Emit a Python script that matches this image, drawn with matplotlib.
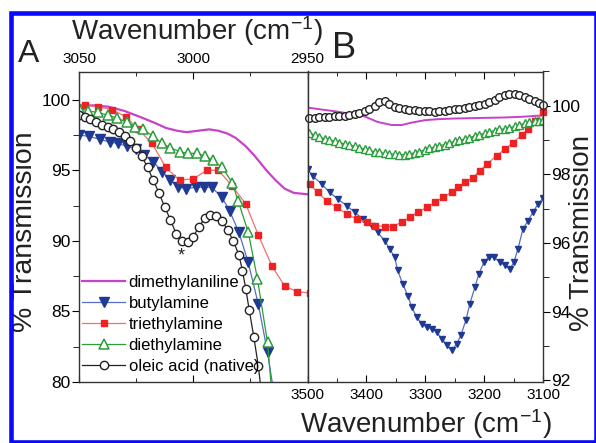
import numpy as np
import matplotlib
matplotlib.use("Agg")
import matplotlib.pyplot as plt
from matplotlib.patches import Rectangle
from matplotlib.ticker import MultipleLocator

plt.rcParams['font.family'] = ['Liberation Sans', 'DejaVu Sans']
plt.rcParams['mathtext.default'] = 'regular'

# ---- panel A : 3050-2950 cm-1 ----
dma_a_wn = [3050, 3043, 3037, 3030, 3022, 3016, 3012, 3007, 3003, 2998, 2993, 2989,
            2985, 2981.5, 2977, 2973, 2968, 2964, 2960, 2956, 2950]
dma_a_t = [99.6, 99.6, 99.5, 99.2, 98.7, 98.3, 98.0, 97.8, 97.7, 97.8, 97.9, 97.8,
           97.6, 97.3, 96.7, 96.0, 95.0, 94.3, 93.7, 93.4, 93.3]

but_a_wn = [3050, 3045.5, 3041, 3036.5, 3033, 3029, 3025, 3021.5, 3017.5, 3013.5, 3010,
            3006.5, 3003, 2999, 2995.5, 2992, 2987.5, 2984, 2980, 2976, 2971.5, 2967.5, 2964.5]
but_a_t = [97.5, 97.4, 97.2, 97.0, 96.9, 96.7, 96.5, 96.1, 95.6, 94.9, 94.3,
           93.8, 93.7, 93.8, 93.8, 93.8, 93.1, 92.1, 90.6, 88.5, 85.5, 82.1, 79.0]

tea_a_wn = [3047.4, 3041.5, 3035.5, 3029.6, 3024, 3018, 3012, 3006, 3000, 2994, 2989,
            2983, 2977, 2971.5, 2965.5, 2960, 2954.5, 2948.7]
tea_a_t = [99.6, 99.5, 99.3, 98.8, 97.9, 96.9, 95.2, 94.3, 94.4, 95.0, 95.0,
           93.9, 92.6, 90.4, 88.2, 86.8, 86.4, 86.3]

dea_a_wn = [3050, 3046, 3041.7, 3037.3, 3033.3, 3029, 3025.4, 3022, 3017.5, 3013.6, 3010,
            3005.7, 3002.2, 2998.2, 2994.7, 2991.2, 2987.3, 2982.9, 2980.3, 2975.9,
            2971.9, 2967.5, 2965.5]
dea_a_t = [99.4, 99.2, 99.1, 98.9, 98.7, 98.4, 98.1, 97.9, 97.4, 96.9, 96.6,
           96.3, 96.2, 96.2, 96.0, 95.7, 95.2, 94.1, 92.8, 90.6,
           87.3, 82.8, 79.0]

ole_a_wn = [3050, 3047.5, 3045, 3042.5, 3040, 3037.5, 3035, 3032.5, 3030, 3027.5, 3025,
            3022.5, 3020, 3017.5, 3015, 3012.5, 3010, 3007.5, 3005, 3002.5, 3000,
            2997.5, 2995, 2992.5, 2990, 2987.5, 2985, 2982.5, 2980, 2978.5, 2977,
            2975.5, 2973.5, 2971.5, 2970.0]
ole_a_t = [98.9, 98.75, 98.6, 98.4, 98.2, 98.05, 97.9, 97.7, 97.45, 97.1, 96.6,
           96.0, 95.2, 94.3, 93.4, 92.4, 91.5, 90.5, 90.0, 89.9, 90.3,
           91.0, 91.6, 91.8, 91.75, 91.4, 90.8, 90.0, 89.0, 87.9, 86.6,
           85.1, 83.2, 81.1, 79.0]

# ---- panel B : 3500-3100 cm-1 ----
dma_b_wn = [3500, 3488, 3471, 3449, 3425, 3403, 3381, 3357, 3340, 3323, 3301, 3279,
            3250, 3221, 3194, 3165, 3136, 3109, 3100]
dma_b_t = [99.95, 99.92, 99.88, 99.83, 99.76, 99.69, 99.53, 99.44, 99.44, 99.51, 99.58, 99.61,
           99.63, 99.64, 99.65, 99.66, 99.68, 99.71, 99.72]

but_b_wn = [3500, 3491.5, 3476, 3462.6, 3449, 3433.6, 3420, 3406.4, 3391, 3381, 3369,
            3360.4, 3352, 3346.8, 3338.3, 3329.8, 3323, 3314.5, 3306, 3297.4, 3289,
            3280.4, 3272, 3263.4, 3255, 3246.4, 3239.6, 3231, 3224.3, 3215.7, 3209,
            3200.4, 3192, 3183.4, 3173.2, 3164.7, 3156.2, 3149.4, 3142.6, 3134,
            3125.5, 3117, 3108.5, 3100]
but_b_t = [98.16, 97.96, 97.72, 97.48, 97.29, 97.09, 96.9, 96.7, 96.51, 96.31, 96.07,
           95.83, 95.59, 95.2, 94.81, 94.47, 94.13, 93.84, 93.65, 93.55, 93.5,
           93.4, 93.21, 93.02, 92.87, 93.07, 93.31, 93.75, 94.23, 94.71, 95.1,
           95.44, 95.59, 95.59, 95.44, 95.35, 95.25, 95.44, 95.83, 96.41,
           96.65, 96.9, 97.14, 97.3]

tea_b_wn = [3496.6, 3483, 3467.7, 3450.6, 3433.6, 3416.6, 3399.6, 3386, 3369, 3355.3,
            3340, 3326.4, 3312.8, 3297.4, 3283.8, 3270.2, 3254.9, 3244.7, 3232.8, 3219,
            3207.2, 3195.3, 3178.3, 3164.7, 3151, 3135.7, 3125.5, 3113.6, 3100]
tea_b_t = [97.72, 97.48, 97.24, 97.04, 96.85, 96.7, 96.61, 96.51, 96.48, 96.48,
           96.61, 96.75, 96.9, 97.04, 97.19, 97.33, 97.48, 97.62, 97.77, 97.91,
           98.11, 98.3, 98.55, 98.74, 98.93, 99.15, 99.32, 99.56, 99.81]

dea_b_wn = [3497, 3488, 3480, 3471, 3463, 3454, 3446, 3437, 3429, 3420, 3412, 3403,
            3395, 3386, 3378, 3369, 3361, 3352, 3344, 3335, 3327, 3318, 3310, 3301,
            3293, 3284, 3276, 3267, 3259, 3250, 3242, 3233, 3225, 3216, 3208, 3199,
            3191, 3182, 3174, 3165, 3157, 3148, 3140, 3131, 3123, 3114, 3106, 3100]
dea_b_t = [99.22, 99.15, 99.08, 99.04, 99.01, 98.97, 98.93, 98.89, 98.86, 98.82, 98.78, 98.74,
           98.70, 98.66, 98.64, 98.61, 98.60, 98.59, 98.58, 98.58, 98.60, 98.63, 98.66, 98.72,
           98.76, 98.80, 98.84, 98.87, 98.92, 98.97, 99.00, 99.03, 99.07, 99.12, 99.16, 99.20,
           99.24, 99.28, 99.31, 99.33, 99.36, 99.40, 99.45, 99.49, 99.53, 99.56, 99.57, 99.58]

ole_b_wn = [3497, 3488, 3480, 3471, 3463, 3454, 3446, 3437, 3429, 3420, 3412, 3403,
            3395, 3386, 3378, 3369, 3361, 3352, 3344, 3335, 3327, 3318, 3310, 3301,
            3293, 3284, 3276, 3267, 3259, 3250, 3242, 3233, 3225, 3216, 3208, 3199,
            3191, 3182, 3174, 3165, 3157, 3148, 3140, 3131, 3123, 3114, 3106, 3100]
ole_b_t = [99.64, 99.65, 99.66, 99.67, 99.68, 99.69, 99.69, 99.70, 99.72, 99.76, 99.80, 99.84,
           99.90, 100.00, 100.10, 100.15, 100.05, 99.97, 99.94, 99.91, 99.89, 99.87, 99.86, 99.85,
           99.84, 99.83, 99.84, 99.85, 99.88, 99.90, 99.92, 99.94, 99.96, 99.98, 100.01, 100.05,
           100.10, 100.16, 100.25, 100.31, 100.33, 100.34, 100.31, 100.26, 100.20, 100.14, 100.07, 100.02]

labels = ['dimethylaniline', 'butylamine', 'triethylamine', 'diethylamine', 'oleic acid (native)']

magenta = '#c842c8'
navy = '#1f3a93'
navy_line = '#5a6cc0'
red = '#ee2222'
red_line = '#f07070'
green = '#2a9d3c'
black = '#222222'

fig = plt.figure(figsize=(5.96, 4.43), dpi=100)
axA = fig.add_axes([79 / 596, 1 - 382 / 443, 228.5 / 596, 310.5 / 443])
axB = fig.add_axes([307.5 / 596, 1 - 382 / 443, 235.5 / 596, 310.5 / 443])

# panel A
axA.plot(dma_a_wn, dma_a_t, color=magenta, lw=1.6, label=labels[0])
axA.plot(but_a_wn, but_a_t, color=navy_line, lw=0.9, marker='v', ms=6.5,
         mfc=navy, mec=navy, label=labels[1])
axA.plot(tea_a_wn, tea_a_t, color=red_line, lw=0.9, marker='s', ms=5,
         mfc=red, mec=red, clip_on=False, label=labels[2])
axA.plot(dea_a_wn, dea_a_t, color=green, lw=0.9, marker='^', ms=6.5,
         mfc='white', mec=green, mew=1.1, label=labels[3])
axA.plot(ole_a_wn, ole_a_t, color=black, lw=0.9, marker='o', ms=6,
         mfc='white', mec=black, mew=1.0, label=labels[4])
axA.text(3005.3, 88.9, '*', fontsize=13, ha='center', va='center', color=black)

axA.set_xlim(3050, 2950)
axA.set_ylim(80, 102)
axA.xaxis.set_major_locator(MultipleLocator(50))
axA.xaxis.set_minor_locator(MultipleLocator(25))
axA.yaxis.set_major_locator(MultipleLocator(5))
axA.yaxis.set_minor_locator(MultipleLocator(2.5))
axA.tick_params(axis='x', which='both', direction='in', top=True, bottom=True,
                labeltop=True, labelbottom=False, labelsize=11, pad=4)
axA.tick_params(axis='x', which='major', length=5)
axA.tick_params(axis='x', which='minor', length=3)
axA.tick_params(axis='y', which='both', direction='out', left=True, right=False,
                labelsize=12.5, pad=1)
axA.tick_params(axis='y', which='major', length=5)
axA.tick_params(axis='y', which='minor', length=4)

leg = axA.legend(loc='lower left', bbox_to_anchor=(0.013, 0.025), frameon=False, fontsize=12,
                 labelspacing=0.37, handlelength=2.6, handletextpad=0.2, borderpad=0,
                 borderaxespad=0, numpoints=1)

# panel B
axB.plot(dma_b_wn, dma_b_t, color=magenta, lw=1.4)
axB.plot(but_b_wn, but_b_t, color=navy_line, lw=0.9, marker='v', ms=5,
         mfc=navy, mec=navy)
axB.plot(tea_b_wn, tea_b_t, color=red_line, lw=0.9, marker='s', ms=4.5,
         mfc=red, mec=red, clip_on=False)
axB.plot(dea_b_wn, dea_b_t, color=green, lw=0.9, marker='^', ms=5.5,
         mfc='white', mec=green, mew=1.0)
axB.plot(ole_b_wn, ole_b_t, color=black, lw=0.9, marker='o', ms=5.5,
         mfc='white', mec=black, mew=1.0, clip_on=False)

axB.set_xlim(3500, 3100)
axB.set_ylim(91.95, 101)
axB.xaxis.set_major_locator(MultipleLocator(100))
axB.xaxis.set_minor_locator(MultipleLocator(50))
axB.yaxis.set_major_locator(MultipleLocator(2))
axB.yaxis.set_minor_locator(MultipleLocator(1))
axB.yaxis.tick_right()
axB.tick_params(axis='x', which='both', direction='in', top=True, bottom=True,
                labelsize=11, pad=4)
axB.tick_params(axis='x', which='major', length=5)
axB.tick_params(axis='x', which='minor', length=3)
axB.tick_params(axis='y', which='both', direction='out', left=False, right=True,
                labelsize=12.5, pad=1)
axB.tick_params(axis='y', which='major', length=5)
axB.tick_params(axis='y', which='minor', length=4)

for ax in (axA, axB):
    for s in ax.spines.values():
        s.set_linewidth(1.0)
        s.set_color('#333333')

# axis titles and panel letters
fig.text(197 / 596, 1 - 40 / 443, 'Wavenumber (cm$^{-1}$)', fontsize=20,
         ha='center', va='baseline', color=black)
fig.text(426 / 596, 1 - 433 / 443, 'Wavenumber (cm$^{-1}$)', fontsize=20,
         ha='center', va='baseline', color=black)
fig.text(25 / 596, 1 - 232 / 443, '% Transmission', fontsize=20.5, rotation=90,
         ha='center', va='center', color=black)
fig.text(582 / 596, 1 - 233 / 443, '% Transmission', fontsize=20, rotation=90,
         ha='center', va='center', color=black)
fig.text(29 / 596, 1 - 54 / 443, 'A', fontsize=23, ha='center', va='center', color=black)
fig.text(344 / 596, 1 - 48 / 443, 'B', fontsize=26, ha='center', va='center', color=black)

# blue frame around the figure
fig.patches.append(Rectangle((10.5 / 596, 1.5 / 443), 585 / 596, 429 / 443,
                             transform=fig.transFigure, fill=False,
                             edgecolor='#0a0aff', linewidth=3.3, zorder=10))

fig.savefig('out.png', dpi=100)
